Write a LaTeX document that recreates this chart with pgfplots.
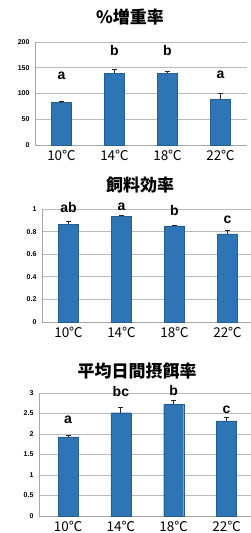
\documentclass[border=0pt]{standalone}
\usepackage{pgfplots}
\pgfplotsset{compat=1.18}
\usepackage{fontspec}
\setmainfont{Liberation Sans}
\newfontfamily\cjk{Noto Sans CJK JP}
\definecolor{barblue}{RGB}{46,117,182}
\pgfplotsset{
  mybar/.style={
    scale only axis,
    ybar, bar width=20pt,
    xmin=-0.5, xmax=3.5,
    xtick={0,1,2,3},
    xticklabels={10℃,14℃,18℃,22℃},
    x tick label style={font=\cjk\fontsize{13.5}{13.5}\selectfont, yshift=-2pt},
    y tick label style={font=\bfseries\fontsize{7}{7}\selectfont, xshift=-2pt},
    /pgf/number format/assume math mode=true,
    ymajorgrids, grid style={gray!55, line width=0.6pt},
    axis x line*=bottom, axis y line*=left,
    axis line style={gray!70, line width=0.6pt},
    major tick length=0pt,
    ymin=0,
    clip=false,
  },
  mybarplot/.style={
    fill=barblue, draw=barblue!80!black, line width=0.3pt,
    error bars/.cd, y dir=plus, y explicit,
    error bar style={line width=0.9pt, black!85},
    error mark options={rotate=90, mark size=2.5pt, line width=0.9pt, black!85},
  },
}
\tikzset{letter/.style={font=\bfseries\fontsize{14}{14}\selectfont, anchor=base}}
\begin{document}
\begin{tikzpicture}
\path[use as bounding box] (0,0) rectangle (250pt,533pt);
% titles
\node[font=\cjk\bfseries\fontsize{17}{17}\selectfont] at (130pt,516pt) {\%増重率};
\node[font=\cjk\bfseries\fontsize{17}{17}\selectfont] at (140pt,348pt) {飼料効率};
\node[font=\cjk\bfseries\fontsize{17}{17}\selectfont] at (137pt,162pt) {平均日間摂餌率};
% plot 1
\begin{axis}[mybar, at={(35pt,388pt)}, anchor=south west,
  width=212pt, height=103pt, ymax=200, ytick={0,50,100,150,200}]
\addplot+[mybarplot] coordinates {
  (0,83) +- (0,1)
  (1,139) +- (0,8)
  (2,139) +- (0,4)
  (3,89) +- (0,12)
};
\node[letter] at (axis cs:0,127) {a};
\node[letter] at (axis cs:1,173) {b};
\node[letter] at (axis cs:2,173) {b};
\node[letter] at (axis cs:3,129) {a};
\end{axis}
% plot 2
\begin{axis}[mybar, at={(42pt,211pt)}, anchor=south west,
  width=212pt, height=113pt, ymax=1, ytick={0,0.2,0.4,0.6,0.8,1}]
\addplot+[mybarplot] coordinates {
  (0,0.867) +- (0,0.023)
  (1,0.934) +- (0,0.009)
  (2,0.850) +- (0,0.005)
  (3,0.780) +- (0,0.030)
};
\node[letter] at (axis cs:0,0.97) {ab};
\node[letter] at (axis cs:1,0.99) {a};
\node[letter] at (axis cs:2,0.94) {b};
\node[letter] at (axis cs:3,0.87) {c};
\end{axis}
% plot 3
\begin{axis}[mybar, at={(39pt,17pt)}, anchor=south west,
  width=214pt, height=123pt, ymax=3, ytick={0,0.5,1,1.5,2,2.5,3},
  xmin=-0.55]
\addplot+[mybarplot] coordinates {
  (0,1.93) +- (0,0.04)
  (1,2.52) +- (0,0.12)
  (2,2.72) +- (0,0.10)
  (3,2.32) +- (0,0.09)
};
\node[letter] at (axis cs:0,2.25) {a};
\node[letter] at (axis cs:1,2.92) {bc};
\node[letter] at (axis cs:2,2.95) {b};
\node[letter] at (axis cs:3,2.49) {c};
\end{axis}
\end{tikzpicture}
\end{document}
